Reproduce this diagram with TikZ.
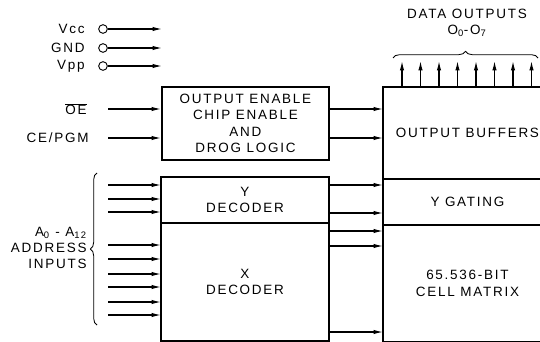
\documentclass[tikz,border=0pt]{standalone}
\usepackage{fontspec}
\setmainfont{Liberation Sans}[LetterSpace=13]
\usetikzlibrary{arrows.meta, positioning, decorations.pathreplacing}

\begin{document}
\begin{tikzpicture}[
    x=0.03cm, y=-0.03cm,
    blk/.style={draw, line width=0.8pt, minimum width=5.01cm, align=center, font=\fontsize{11.5}{13.8}\selectfont},
    frame/.style={line width=1.6pt},
    sig/.style={-{Latex[length=2.8mm, width=1.3mm]}, line width=1pt},
    lbl/.style={font=\fontsize{11.5}{13.8}\selectfont, inner sep=1pt},
    pin/.style={circle, draw, line width=0.8pt, inner sep=0pt, minimum size=0.26cm},
    brc/.style={decorate, decoration={brace, amplitude=0.2cm}, line width=0.7pt}
]
\useasboundingbox (0,0) rectangle (540,341);
\clip (0,0) rectangle (540,341);

% supply pins
\foreach \nm/\txt/\y in {vcc/Vcc/29, gnd/GND/48, vpp/Vpp/66} {
  \node[pin] (\nm) at (103,\y) {};
  \node[lbl, anchor=east] (l\nm) at (86,\y) {\txt};
  \coordinate (e\nm) at (162,\y);
  \draw[sig] (\nm) -- (e\nm);
}

% control logic
\node[blk, line width=1.6pt, minimum height=2.19cm, anchor=north west] (oe) at (161,86)
  {OUTPUT ENABLE\\CHIP ENABLE\\AND\\DROG LOGIC};
\node[lbl, anchor=east] (loe) at (88,109) {$\overline{\mbox{OE}}$};
\node[lbl, anchor=east] (lce) at (90,138) {CE/PGM};
\coordinate (oein) at (108,109);
\coordinate (cein) at (108,138);
\draw[sig] (oein) -- (oein -| oe.west);
\draw[sig] (cein) -- (cein -| oe.west);

% decoders
\node[blk, minimum height=1.35cm, anchor=north west] (ydec) at (161,177) {Y\\DECODER};
\node[blk, minimum height=3.51cm, below=0pt of ydec] (xdec) {X\\DECODER};
\draw[frame] (ydec.north west) rectangle (xdec.south east);

% memory side
\node[blk, minimum width=5.04cm, minimum height=2.73cm, anchor=north west] (obuf) at (383,87) {OUTPUT BUFFERS};
\node[blk, minimum width=5.04cm, minimum height=1.35cm, below=0pt of obuf] (ygate) {Y GATING};
\node[blk, minimum width=5.04cm, minimum height=3.48cm, below=0pt of ygate] (cells) {65.536-BIT\\CELL MATRIX};
\draw[frame] (obuf.north west) rectangle (cells.south east);

% address inputs
\foreach \y in {185,199,212} {
  \coordinate (ain) at (108,\y);
  \draw[sig] (ain) -- (ain -| ydec.west);
}
\foreach \y in {245,259,274,287,302,315} {
  \coordinate (ain) at (108,\y);
  \draw[sig] (ain) -- (ain -| xdec.west);
}
\draw[brc] (97,325) -- (97,173);
\node[lbl, anchor=east, align=right] (laddr) at (88,248)
  {A\textsubscript{0} - A\textsubscript{12}\\ADDRESS\\INPUTS};

% internal busses
\draw[sig] (oe.east |- 0,109) -- (obuf.west |- 0,109);
\draw[sig] (oe.east |- 0,138) -- (obuf.west |- 0,138);
\foreach \y in {185,213} \draw[sig] (ydec.east |- 0,\y) -- (ygate.west |- 0,\y);
\foreach \y in {231,246,332} \draw[sig] (xdec.east |- 0,\y) -- (cells.west |- 0,\y);

% data outputs
\foreach \i in {0,...,7} {
  \coordinate (d\i) at ({402+18.5*\i},61);
  \draw[sig] (d\i |- obuf.north) -- (d\i);
}
\draw[brc] (393,58) -- (538,58);
\node[lbl, align=center] (ldata) at (467,23) {DATA OUTPUTS\\O\textsubscript{0}-O\textsubscript{7}};
\end{tikzpicture}
\end{document}
